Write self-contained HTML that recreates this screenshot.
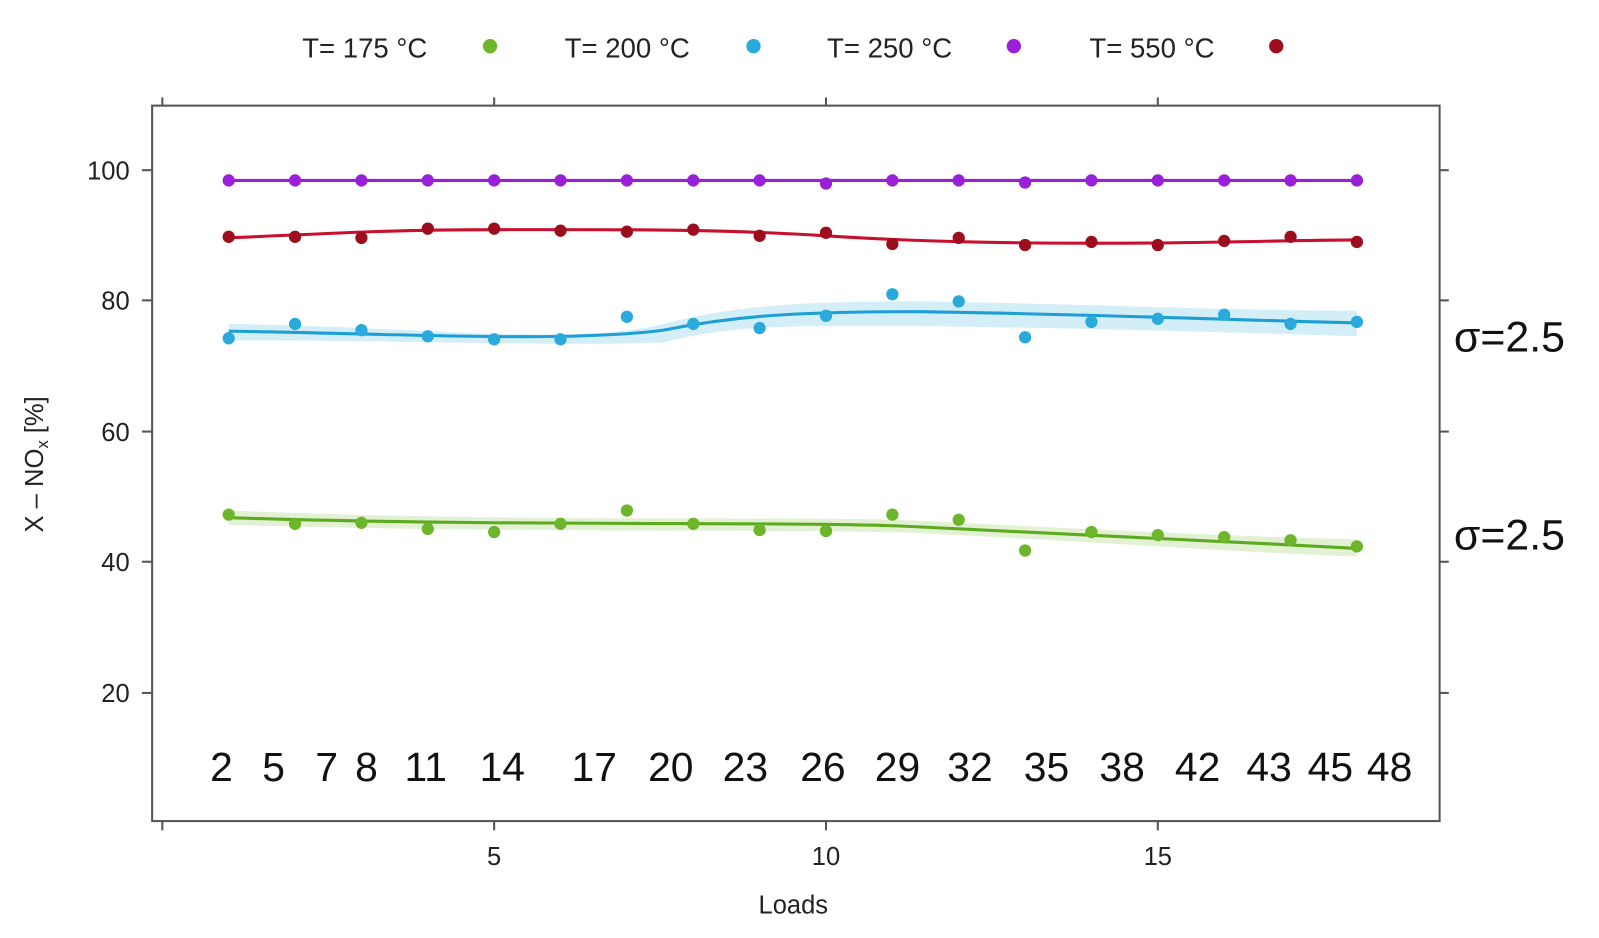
<!DOCTYPE html>
<html><head><meta charset="utf-8"><style>
body{margin:0;background:#fff}
svg text{font-family:"Liberation Sans",sans-serif}
</style></head><body>
<svg width="1599" height="933" xmlns="http://www.w3.org/2000/svg">
<rect width="1599" height="933" fill="#fff"/>
<g transform="translate(0,-2) scale(1.021,1.025)">
<!-- legend -->
<g font-size="27" fill="#222">
<text x="296" y="58">T= 175 °C</text><circle cx="480" cy="47" r="7" fill="#6db52a"/>
<text x="553" y="58">T= 200 °C</text><circle cx="738" cy="47" r="7" fill="#2aa9dc"/>
<text x="810" y="58">T= 250 °C</text><circle cx="993" cy="47" r="7" fill="#9a1fd8"/>
<text x="1067" y="58">T= 550 °C</text><circle cx="1250" cy="47" r="7" fill="#9c0e1e"/>
</g>
<!-- box -->
<rect x="149" y="105" width="1261" height="698" fill="none" stroke="#555" stroke-width="2"/>
<g stroke="#555" stroke-width="2">
<line x1="159" y1="105" x2="159" y2="97"/><line x1="484" y1="105" x2="484" y2="97"/><line x1="809" y1="105" x2="809" y2="97"/><line x1="1134" y1="105" x2="1134" y2="97"/>
<line x1="159" y1="803" x2="159" y2="812"/><line x1="484" y1="803" x2="484" y2="812"/><line x1="809" y1="803" x2="809" y2="812"/><line x1="1134" y1="803" x2="1134" y2="812"/>
<line x1="149" y1="168" x2="139" y2="168"/><line x1="149" y1="295" x2="139" y2="295"/><line x1="149" y1="423" x2="139" y2="423"/><line x1="149" y1="550" x2="139" y2="550"/><line x1="149" y1="678" x2="139" y2="678"/>
<line x1="1410" y1="168" x2="1419" y2="168"/><line x1="1410" y1="295" x2="1419" y2="295"/><line x1="1410" y1="423" x2="1419" y2="423"/><line x1="1410" y1="550" x2="1419" y2="550"/><line x1="1410" y1="678" x2="1419" y2="678"/>
</g>
<g font-size="25" fill="#222" text-anchor="end">
<text x="127" y="177">100</text><text x="127" y="304">80</text><text x="127" y="432">60</text><text x="127" y="559">40</text><text x="127" y="687">20</text>
</g>
<g font-size="25" fill="#222" text-anchor="middle">
<text x="484" y="846">5</text><text x="809" y="846">10</text><text x="1134" y="846">15</text>
<text x="777" y="893">Loads</text>
</g>
<text transform="translate(42,455) rotate(-90)" font-size="25" fill="#222" text-anchor="middle">X – NO<tspan font-size="16" dy="5">x</tspan><tspan dy="-5">  [%]</tspan></text>
<!-- bands -->
<path d="M224,318 C400,320 560,340 650,318 C720,300 780,296 900,296 C1050,298 1200,305 1329,305 L1329,330 C1200,326 1050,322 900,320 C780,320 720,318 650,336 C560,340 400,334 224,334 Z" fill="#2aa9dc" opacity="0.2"/>
<path d="M224,500 C500,512 800,505 900,510 C1100,520 1200,525 1329,528 L1329,545 C1200,540 1100,532 900,522 C800,518 500,522 224,514 Z" fill="#6db52a" opacity="0.2"/>
<!-- lines -->
<polyline points="224,178 1329,178" stroke="#9a1fd8" stroke-width="3" fill="none"/>
<path d="M224,234 C320,230 380,226 484,226 C600,226 700,225 809,232 C900,238 1000,240 1134,239 C1230,238 1280,236 1329,236" stroke="#c8102e" stroke-width="3" fill="none"/>
<path d="M224,325 C400,328 560,336 650,324 C720,310 780,306 900,306 C1050,308 1200,314 1329,317" stroke="#1d9fd6" stroke-width="3" fill="none"/>
<path d="M224,507 C500,516 800,510 900,516 C1100,526 1200,530 1329,537" stroke="#5caa1e" stroke-width="3" fill="none"/>
<!-- points -->
<g fill="#9a1fd8">
<circle cx="224" cy="178" r="6"/><circle cx="289" cy="178" r="6"/><circle cx="354" cy="178" r="6"/><circle cx="419" cy="178" r="6"/><circle cx="484" cy="178" r="6"/><circle cx="549" cy="178" r="6"/><circle cx="614" cy="178" r="6"/><circle cx="679" cy="178" r="6"/><circle cx="744" cy="178" r="6"/><circle cx="809" cy="181" r="6"/><circle cx="874" cy="178" r="6"/><circle cx="939" cy="178" r="6"/><circle cx="1004" cy="180" r="6"/><circle cx="1069" cy="178" r="6"/><circle cx="1134" cy="178" r="6"/><circle cx="1199" cy="178" r="6"/><circle cx="1264" cy="178" r="6"/><circle cx="1329" cy="178" r="6"/>
</g>
<g fill="#9c0e1e">
<circle cx="224" cy="233" r="6"/><circle cx="289" cy="233" r="6"/><circle cx="354" cy="234" r="6"/><circle cx="419" cy="225" r="6"/><circle cx="484" cy="225" r="6"/><circle cx="549" cy="227" r="6"/><circle cx="614" cy="228" r="6"/><circle cx="679" cy="226" r="6"/><circle cx="744" cy="232" r="6"/><circle cx="809" cy="229" r="6"/><circle cx="874" cy="240" r="6"/><circle cx="939" cy="234" r="6"/><circle cx="1004" cy="241" r="6"/><circle cx="1069" cy="238" r="6"/><circle cx="1134" cy="241" r="6"/><circle cx="1199" cy="237" r="6"/><circle cx="1264" cy="233" r="6"/><circle cx="1329" cy="238" r="6"/>
</g>
<g fill="#2aa9dc">
<circle cx="224" cy="332" r="6"/><circle cx="289" cy="318" r="6"/><circle cx="354" cy="324" r="6"/><circle cx="419" cy="330" r="6"/><circle cx="484" cy="333" r="6"/><circle cx="549" cy="333" r="6"/><circle cx="614" cy="311" r="6"/><circle cx="679" cy="318" r="6"/><circle cx="744" cy="322" r="6"/><circle cx="809" cy="310" r="6"/><circle cx="874" cy="289" r="6"/><circle cx="939" cy="296" r="6"/><circle cx="1004" cy="331" r="6"/><circle cx="1069" cy="316" r="6"/><circle cx="1134" cy="313" r="6"/><circle cx="1199" cy="309" r="6"/><circle cx="1264" cy="318" r="6"/><circle cx="1329" cy="316" r="6"/>
</g>
<g fill="#6db52a">
<circle cx="224" cy="504" r="6"/><circle cx="289" cy="513" r="6"/><circle cx="354" cy="512" r="6"/><circle cx="419" cy="518" r="6"/><circle cx="484" cy="521" r="6"/><circle cx="549" cy="513" r="6"/><circle cx="614" cy="500" r="6"/><circle cx="679" cy="513" r="6"/><circle cx="744" cy="519" r="6"/><circle cx="809" cy="520" r="6"/><circle cx="874" cy="504" r="6"/><circle cx="939" cy="509" r="6"/><circle cx="1004" cy="539" r="6"/><circle cx="1069" cy="521" r="6"/><circle cx="1134" cy="524" r="6"/><circle cx="1199" cy="526" r="6"/><circle cx="1264" cy="529" r="6"/><circle cx="1329" cy="535" r="6"/>
</g>
<!-- load labels -->
<g font-size="40" fill="#111" text-anchor="middle">
<text x="217" y="764">2</text><text x="268" y="764">5</text><text x="320" y="764">7</text><text x="359" y="764">8</text><text x="417" y="764">11</text><text x="492" y="764">14</text><text x="582" y="764">17</text><text x="657" y="764">20</text><text x="730" y="764">23</text><text x="806" y="764">26</text><text x="879" y="764">29</text><text x="950" y="764">32</text><text x="1025" y="764">35</text><text x="1099" y="764">38</text><text x="1173" y="764">42</text><text x="1243" y="764">43</text><text x="1303" y="764">45</text><text x="1361" y="764">48</text>
</g>
<g font-size="42" fill="#111">
<text x="1424" y="345">σ=2.5</text><text x="1424" y="538">σ=2.5</text>
</g>
</g>
</svg>
</body></html>
